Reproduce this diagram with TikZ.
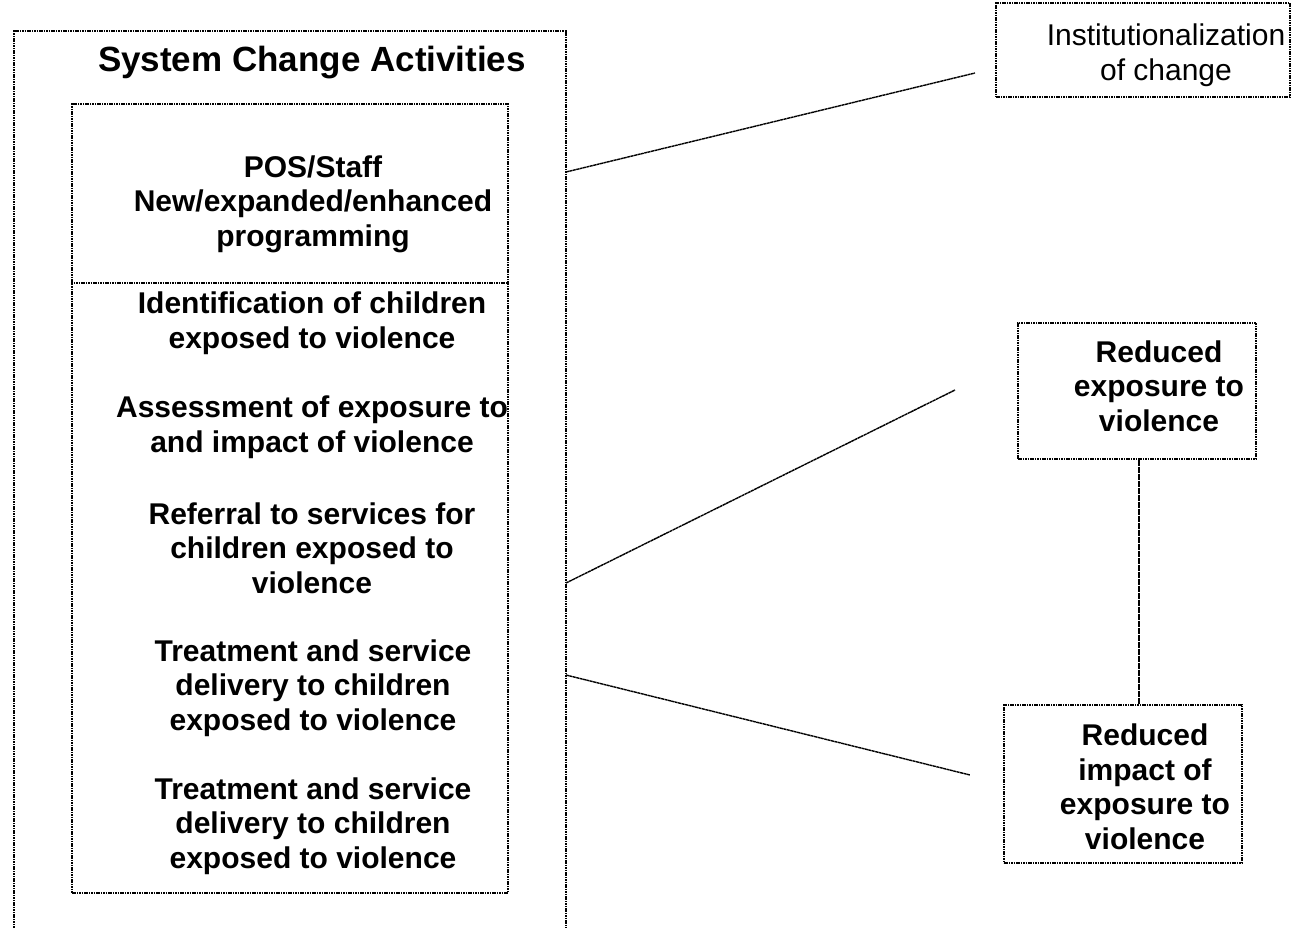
\documentclass[tikz,border=0pt]{standalone}
\usepackage{fontspec}
\setmainfont{Liberation Sans}
\begin{document}
\begin{tikzpicture}[x=1pt,y=-1pt,
  dotline/.style={line width=1.3pt, dash pattern=on 1.6pt off 0.8pt},
  box/.style={dotline, draw, rectangle, inner sep=0pt},
  bt/.style={align=center, font=\fontsize{30}{34.5}\selectfont\bfseries, inner sep=0pt},
  rt/.style={align=center, font=\fontsize{30}{34.5}\selectfont, inner sep=0pt},
  link/.style={line width=1.4pt, dash pattern=on 3pt off 0.5pt}]
\useasboundingbox (0,0) rectangle (1295,927);
% outer frame (open at bottom)
\draw[dotline] (14,930) -- (14,31) -- (566,31) -- (566,930);
\node[font=\fontsize{35}{40}\selectfont\bfseries, inner sep=0pt] (title) at (312,63) {System Change Activities};
% inner box
\node[box, minimum width=436pt, minimum height=789pt] (inner) at (290,498.5) {};
\draw[dotline] (inner.west |- 0,283) -- (inner.east |- 0,283);
\node[bt] (pos) at (313,204) {POS/Staff\\New/expanded/enhanced\\programming};
\node[bt] (ident) at (312,323) {Identification of children\\exposed to violence};
\node[bt] (assess) at (312,427) {Assessment of exposure to\\and impact of violence};
\node[bt] (refer) at (312,548) {Referral to services for\\children exposed to\\violence};
\node[bt] (treat1) at (313,688) {Treatment and service\\delivery to children\\exposed to violence};
\node[bt] (treat2) at (313,826) {Treatment and service\\delivery to children\\exposed to violence};
% right boxes
\node[box, minimum width=294pt, minimum height=94pt] (inst) at (1143,50) {};
\node[rt] (insttext) at (1166,55) {Institutionalization\\of change};
\node[box, minimum width=238pt, minimum height=136pt] (exp) at (1137,391) {};
\node[bt] (exptext) at (1159,386) {Reduced\\exposure to\\violence};
\node[box, minimum width=238pt, minimum height=158pt] (imp) at (1123,784) {};
\node[bt] (imptext) at (1145,787) {Reduced\\impact of\\exposure to\\violence};
% connectors
\coordinate (s1) at (566,172);
\coordinate (t1) at (975,73);
\coordinate (s2) at (566,583);
\coordinate (t2) at (955,390);
\coordinate (s3) at (566,675);
\coordinate (t3) at (970,775);
\draw[link] (s1) -- (t1);
\draw[link] (s2) -- (t2);
\draw[link] (s3) -- (t3);
\draw[link] ([xshift=2pt]exp.south) -- ([xshift=2pt]exp.south |- imp.north);
\end{tikzpicture}
\end{document}
